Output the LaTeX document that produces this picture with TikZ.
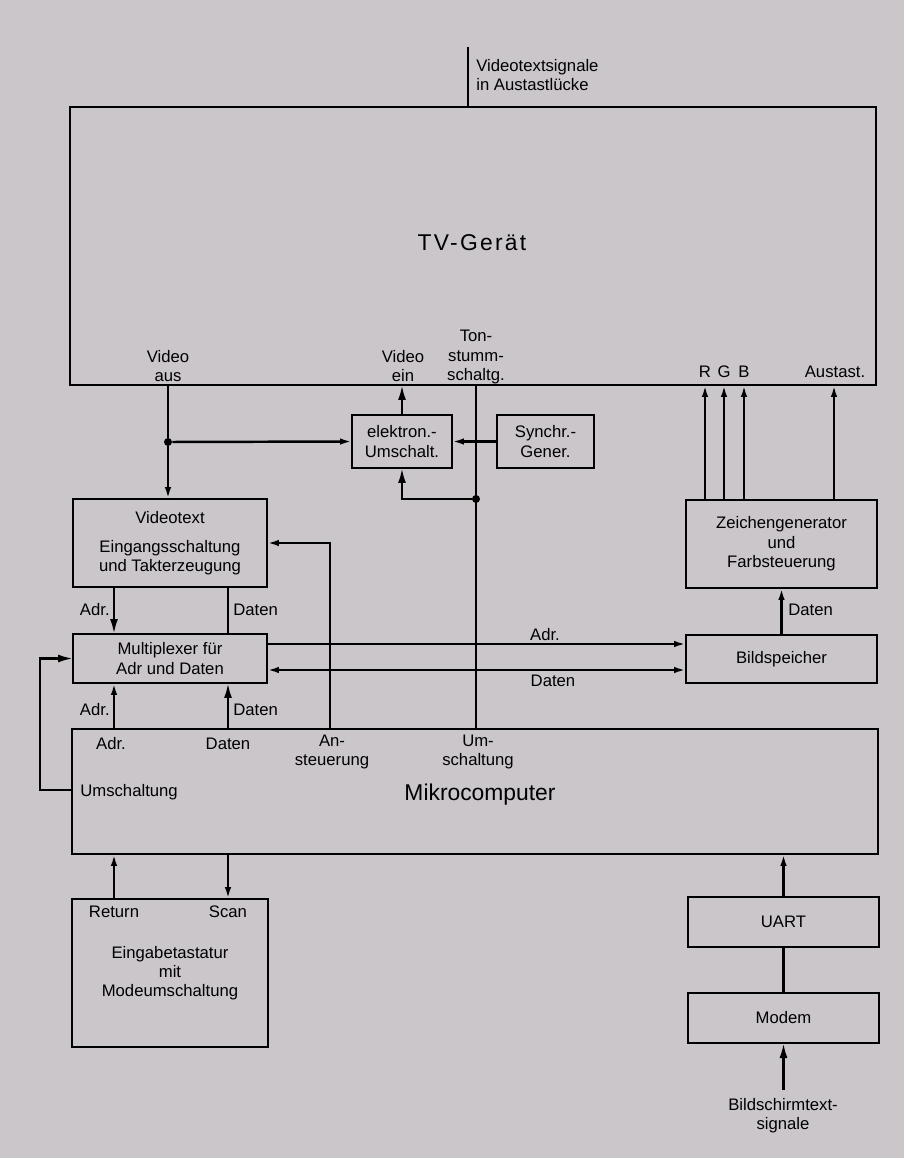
\documentclass[tikz,border=0pt]{standalone}
\usepackage{fontspec}
\setmainfont{Liberation Sans}
\newfontfamily\titlefont[LetterSpace=10]{Liberation Sans}
\usetikzlibrary{arrows.meta}
\definecolor{paper}{RGB}{202,198,202}
\tikzset{
  blk/.style={draw=black, line width=1.4pt, inner sep=0pt, outer sep=0pt, align=center, font=\fontsize{9.5}{11}\selectfont},
  tag/.style={inner sep=0pt, align=center, font=\fontsize{9.5}{11}\selectfont},
  wire/.style={line width=1.4pt, draw=black},
  feed/.style={wire, -{Latex[length=3mm, width=1.6mm]}},
  slim/.style={wire, -{Latex[length=2.4mm, width=1.3mm]}},
  slimboth/.style={wire, {Latex[length=2.4mm, width=1.3mm]}-{Latex[length=2.4mm, width=1.3mm]}},
  junction/.style={circle, fill=black, inner sep=0pt, minimum size=1.6mm},
}

\begin{document}
\begin{tikzpicture}[x=0.02cm, y=-0.02cm]
\useasboundingbox (0,0) rectangle (904,1158);
\fill[paper] (0,0) rectangle (904,1158);

% blocks
\node[blk, minimum width=16.12cm, minimum height=5.56cm] (tv) at (473,246) {};
\node[font=\titlefont\fontsize{13}{15}\selectfont] (tvname) at (472,243) {TV-Gerät};
\node[blk, minimum width=2.0cm, minimum height=1.06cm] (elek) at (402,441.5) {elektron.-\\Umschalt.};
\node[blk, minimum width=1.94cm, minimum height=1.06cm] (sync) at (545.5,441.5) {Synchr.-\\Gener.};
\node[blk, minimum width=3.88cm, minimum height=1.76cm] (vt) at (170,543) {Videotext\\[1.9mm]Eingangsschaltung\\und Takterzeugung};
\node[blk, minimum width=3.88cm, minimum height=0.98cm] (mux) at (170,658.5) {Multiplexer für\\Adr und Daten};
\node[blk, minimum width=3.82cm, minimum height=1.76cm] (zg) at (781.5,544) {Zeichengenerator\\und\\Farbsteuerung};
\node[blk, minimum width=3.82cm, minimum height=0.96cm] (bs) at (781.5,659) {Bildspeicher};
\node[blk, minimum width=16.12cm, minimum height=2.5cm] (mc) at (475,791.5) {};
\node[font=\fontsize{13}{15}\selectfont] (mcname) at (480,795) {Mikrocomputer};
\node[blk, minimum width=3.92cm, minimum height=2.96cm] (ein) at (170,973) {Eingabetastatur\\mit\\Modeumschaltung};
\node[blk, minimum width=3.82cm, minimum height=1.0cm] (uart) at (783.5,922) {UART};
\node[blk, minimum width=3.82cm, minimum height=1.0cm] (modem) at (783.5,1018) {Modem};

% columns and rows
\coordinate (sig) at (468,47);
\coordinate (cadr) at (114,0);
\coordinate (cdat) at (228,0);
\coordinate (cans) at (330,0);
\coordinate (cr) at (705,0);
\coordinate (cg) at (724,0);
\coordinate (cb) at (744,0);
\coordinate (caus) at (834,0);
\coordinate (rowadr) at (0,644);
\coordinate (rowdat) at (0,670);
\coordinate (fb) at (40,790);
\coordinate (bt) at (783.5,1090);
\node[junction] (jv) at (168,442) {};
\node[junction] (jt) at (476,499) {};

% connectors
\draw[wire] (sig) -- (sig |- tv.north);
\draw[wire] (jv |- tv.south) -- (jv);
\draw[slim] (jv) -- (jv |- vt.north);
\draw[slim] (jv) -- (elek.west);
\draw[slim] (sync.west) -- (elek.east);
\draw[feed] (elek.north) -- (elek.north |- tv.south);
\draw[wire] (jt |- tv.south) -- (jt |- mc.north);
\draw[feed] (jt) -| (elek.south);
\foreach \c in {cr,cg,cb,caus}
  \draw[slim] (zg.north -| \c) -- (tv.south -| \c);
\draw[slim] (bs.north) -- (zg.south);
\draw[feed] (vt.south -| cadr) -- (mux.north -| cadr);
\draw[wire] (vt.south -| cdat) -- (mux.north -| cdat);
\draw[slim] (mc.north -| cadr) -- (mux.south -| cadr);
\draw[feed] (mc.north -| cdat) -- (mux.south -| cdat);
\draw[slim] (mc.north -| cans) |- (vt.east);
\draw[slim] (mux.east |- rowadr) -- (bs.west |- rowadr);
\draw[slimboth] (mux.east |- rowdat) -- (bs.west |- rowdat);
\draw[feed] (mc.west |- fb) -- (fb) |- (mux.west);
\draw[slim] (ein.north -| cadr) -- (mc.south -| cadr);
\draw[slim] (mc.south -| cdat) -- (ein.north -| cdat);
\draw[slim] (uart.north) -- (uart.north |- mc.south);
\draw[wire] (uart.south) -- (modem.north);
\draw[feed] (bt) -- (modem.south);

% labels
\node[tag, anchor=west, align=left] (sigtxt) at (476,75) {Videotextsignale\\in Austastlücke};
\node[tag] (lvaus) at (168,366) {Video\\aus};
\node[tag] (lvein) at (403,366) {Video\\ein};
\node[tag] (lton) at (476,357) {Ton-\\stumm-\\schaltg.};
\node[tag] (lr) at (705,372) {R};
\node[tag] (lg) at (724,372) {G};
\node[tag] (lb) at (744,372) {B};
\node[tag] (laus) at (835,372) {Austast.};
\node[tag, anchor=east] (ladr1) at (110,610) {Adr.};
\node[tag, anchor=west] (ldat1) at (233,610) {Daten};
\node[tag, anchor=east] (ladr2) at (110,710) {Adr.};
\node[tag, anchor=west] (ldat2) at (233,710) {Daten};
\node[tag] (ladr3) at (545,635) {Adr.};
\node[tag] (ldat3) at (553,681) {Daten};
\node[tag, anchor=west] (ldat4) at (788,610) {Daten};
\node[tag] (mcadr) at (111,744) {Adr.};
\node[tag] (mcdat) at (228,744) {Daten};
\node[tag] (mcans) at (332,752) {An-\\steuerung};
\node[tag] (mcum) at (478,752) {Um-\\schaltung};
\node[tag, anchor=west] (mcfb) at (80,792) {Umschaltung};
\node[tag] (lret) at (114,912) {Return};
\node[tag] (lscan) at (228,912) {Scan};
\node[tag] (lbt) at (783,1116) {Bildschirmtext-\\signale};
\end{tikzpicture}
\end{document}
